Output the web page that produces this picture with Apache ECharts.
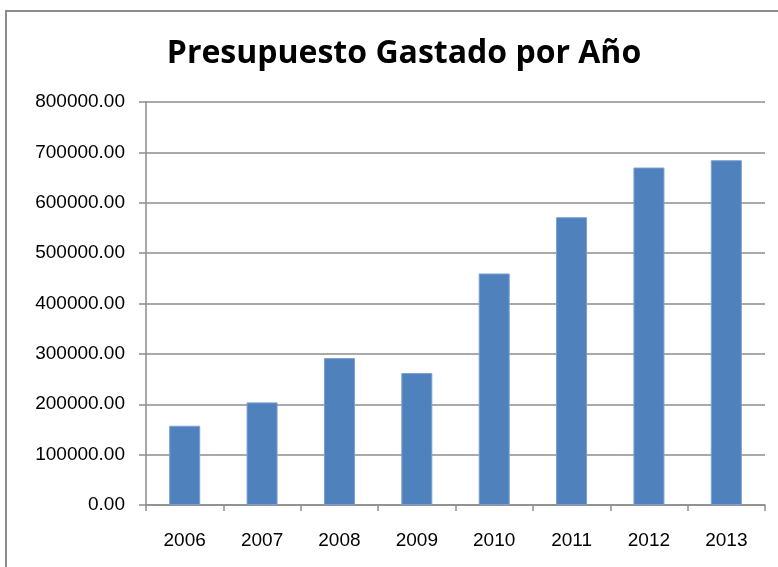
<!DOCTYPE html>
<html lang="es">
<head>
    <meta charset="UTF-8">
    <title>Presupuesto Gastado por Año</title>
    <style>
        html, body { margin: 0; padding: 0; background: #fff; }
        #frame {
            position: absolute;
            left: 5px;
            top: 10px;
            width: 800px;
            height: 600px;
            border: 2px solid #8c8c8c;
        }
        #chart {
            position: absolute;
            left: 0;
            top: 0;
            width: 778px;
            height: 567px;
        }
    </style>
</head>
<body>
    <div id="frame"></div>
    <div id="chart"></div>
    <script src="https://cdn.jsdelivr.net/npm/echarts@6/dist/echarts.min.js"></script>
    <script>
        var years = ['2006', '2007', '2008', '2009', '2010', '2011', '2012', '2013'];
        var gastado = [157300, 203700, 291600, 261900, 459600, 571300, 669900, 684400];

        var chart = echarts.init(document.getElementById('chart'));
        var option = {
            animation: false,
            title: {
                text: 'Presupuesto Gastado por Año',
                left: 399,
                textAlign: 'center',
                top: 33,
                textStyle: {
                    fontFamily: 'Open Sans',
                    fontWeight: 'bold',
                    fontSize: 32,
                    color: '#000'
                }
            },
            grid: {
                left: 146,
                right: 13,
                top: 102,
                bottom: 62
            },
            xAxis: {
                type: 'category',
                data: years,
                axisLine: { lineStyle: { color: '#8c8c8c', width: 1.5 } },
                axisTick: { show: true, length: 6, lineStyle: { color: '#8c8c8c', width: 1.5 } },
                axisLabel: {
                    margin: 26,
                    fontFamily: 'Liberation Sans',
                    fontSize: 19,
                    color: '#000'
                }
            },
            yAxis: {
                type: 'value',
                min: 0,
                max: 800000,
                interval: 100000,
                axisLine: { show: true, lineStyle: { color: '#8c8c8c', width: 1.5 } },
                axisTick: { show: true, length: 7, lineStyle: { color: '#8c8c8c', width: 1.5 } },
                splitLine: { lineStyle: { color: '#8c8c8c', width: 1.5 } },
                axisLabel: {
                    margin: 21,
                    fontFamily: 'Liberation Sans',
                    fontSize: 19,
                    color: '#000',
                    formatter: function (v) { return v.toFixed(2); }
                }
            },
            series: [{
                type: 'bar',
                data: gastado,
                barWidth: 31,
                itemStyle: {
                    color: '#4f81bd',
                    borderColor: '#7a9fd0',
                    borderWidth: 1
                }
            }]
        };
        chart.setOption(option);
    </script>
</body>
</html>
